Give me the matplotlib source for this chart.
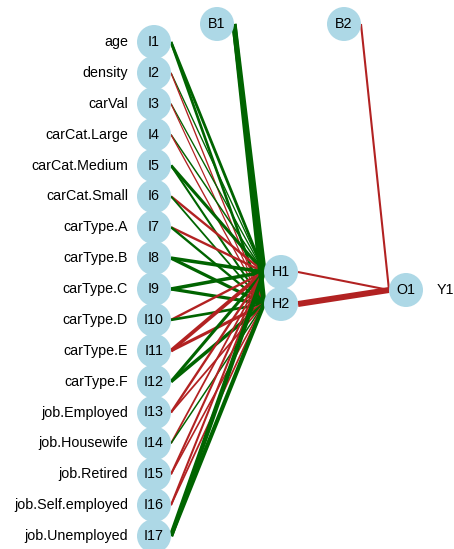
import numpy as np
from matplotlib import pyplot as plt
from matplotlib.patches import Circle

# input variable names
inputs = ['age', 'density', 'carVal', 'carCat.Large', 'carCat.Medium', 'carCat.Small',
          'carType.A', 'carType.B', 'carType.C', 'carType.D', 'carType.E', 'carType.F',
          'job.Employed', 'job.Housewife', 'job.Retired', 'job.Self.employed', 'job.Unemployed']
output_name = 'Y1'

w_h1 = [1.3, 0.3, 0.3, 0.4, 1.5, -1.0, -1.0, 1.8, 1.8, -1.0, -2.0, 1.5, -1.0, -0.6, -0.8, -0.8, 2.5]
w_h2 = [1.2, -0.3, -0.2, -0.3, 0.8, 0.6, 1.0, 1.6, 1.6, 1.2, -1.5, 1.8, -0.6, 0.4, -0.5, -0.6, 2.2]
w_b1 = [3.0, 2.8]          # bias 1 -> H1, H2
w_out = [-0.8, -3.5]       # H1, H2 -> O1
w_b2 = [-0.8]              # bias 2 -> O1

pos_col = '#006400'
neg_col = '#B22222'
node_col = '#ADD8E6'

all_w = np.abs(np.concatenate([w_h1, w_h2, w_b1, w_out, w_b2]))


def width(w):
    # rescale |w| to line widths 1.2..6 px, then to points
    lw = 1.2 + (abs(w) - all_w.min()) / (all_w.max() - all_w.min()) * 4.8
    return lw * 0.72


fig = plt.figure(figsize=(4.54, 5.49), dpi=100)
ax = fig.add_axes([0, 0, 1, 1])
ax.set_xlim(0, 454)
ax.set_ylim(549, 0)
ax.axis('off')

r = 17
x_in, x_hid, x_out = 154, 281, 406
x_b1, x_b2, y_bias = 217, 344, 24
n_in = len(inputs)
y_in = np.linspace(42, 536, n_in)
y_hid = np.array([272, 304])
y_out = np.array([290])

# input -> hidden
for i in range(n_in):
    for h, ws in enumerate([w_h1, w_h2]):
        w = ws[i]
        ax.plot([x_in + r, x_hid - r], [y_in[i], y_hid[h]], color=pos_col if w > 0 else neg_col,
                lw=width(w), solid_capstyle='butt', zorder=1)
# bias 1 -> hidden
for h, w in enumerate(w_b1):
    ax.plot([x_b1 + r, x_hid - r], [y_bias, y_hid[h]], color=pos_col if w > 0 else neg_col,
            lw=width(w), solid_capstyle='butt', zorder=1)
# hidden -> output
for h, w in enumerate(w_out):
    ax.plot([x_hid + r, x_out - r], [y_hid[h], y_out[0]], color=pos_col if w > 0 else neg_col,
            lw=width(w), solid_capstyle='butt', zorder=1)
# bias 2 -> output
ax.plot([x_b2 + r, x_out - r], [y_bias, y_out[0]], color=pos_col if w_b2[0] > 0 else neg_col,
        lw=width(w_b2[0]), solid_capstyle='butt', zorder=1)

font = dict(family='Liberation Sans', fontsize=10.3, color='black')


def node(x, y, label):
    ax.add_patch(Circle((x, y), r, color=node_col, zorder=2, lw=0))
    ax.text(x, y, label, ha='center', va='center', zorder=3, **font)


for i, name in enumerate(inputs):
    node(x_in, y_in[i], 'I%d' % (i + 1))
    ax.text(x_in - r - 9, y_in[i], name, ha='right', va='center', **font)
for h in range(len(y_hid)):
    node(x_hid, y_hid[h], 'H%d' % (h + 1))
node(x_out, y_out[0], 'O1')
ax.text(x_out + r + 14, y_out[0], output_name, ha='left', va='center', **font)
node(x_b1, y_bias, 'B1')
node(x_b2, y_bias, 'B2')

fig.savefig('out.png', dpi=100)
